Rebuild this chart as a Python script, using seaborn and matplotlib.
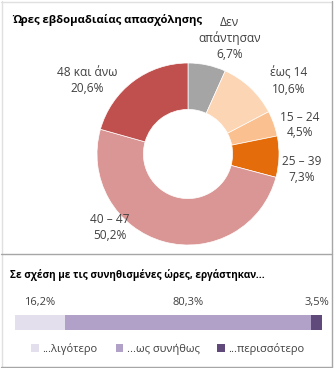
import matplotlib
matplotlib.use("Agg")
import matplotlib.pyplot as plt
from matplotlib.patches import Patch
from matplotlib.lines import Line2D
import numpy as np
import pandas as pd
import seaborn as sns

# Weekly working hours (share of employed, %)
hour_groups = ["Δεν\nαπάντησαν", "έως 14", "15 – 24", "25 – 39", "40 – 47", "48 και άνω"]
hour_shares = [6.7, 10.6, 4.5, 7.3, 50.2, 20.6]
hour_colors = ["#A5A5A5", "#FCD5B4", "#FAC090", "#E46C0A", "#D99694", "#C0504D"]

# Hours worked compared with usual hours (%)
usual_groups = ["...λιγότερο", "...ως συνήθως", "...περισσότερο"]
usual_shares = [16.2, 80.3, 3.5]
usual_colors = ["#E4DFEC", "#B1A0C7", "#604A7B"]

title_top = "Ώρες εβδομαδιαίας απασχόλησης"
title_bottom = "Σε σχέση με τις συνηθισμένες ώρες, εργάστηκαν..."

# label anchors around the donut, in pie data units
label_xy = [(0.46, 1.27), (1.11, 0.80), (1.23, 0.32), (1.25, -0.17), (-0.86, -0.81), (-1.11, 0.81)]

sns.set_theme(style="white")
plt.rcParams["font.family"] = ["Open Sans", "DejaVu Sans"]

W, H = 334, 368
DPI = 100
fig = plt.figure(figsize=(W / DPI, H / DPI), dpi=DPI)
fig.patch.set_facecolor("white")


def px_box(x0, y0, x1, y1):
    return [x0 / W, 1 - y1 / H, (x1 - x0) / W, (y1 - y0) / H]


def pct(v):
    return f"{v:.1f}".replace(".", ",") + "%"


TEXT = "#404040"
FS = 8

# ---- donut: weekly hours ----
ax = fig.add_axes(px_box(97, 63, 279, 245))
ax.pie(hour_shares, colors=hour_colors, startangle=90, counterclock=False,
       wedgeprops=dict(width=0.51, edgecolor="white", linewidth=0.5))
ax.set_xlim(-1, 1)
ax.set_ylim(-1, 1)
ax.set_aspect("equal")
ax.axis("off")
for name, val, (lx, ly) in zip(hour_groups, hour_shares, label_xy):
    ax.text(lx, ly, f"{name}\n{pct(val)}", ha="center", va="center",
            fontsize=8.6, color=TEXT, linespacing=1.25, clip_on=False)

fig.text(12 / W, 1 - 20 / H, title_top, fontsize=8.1, fontweight="bold",
         color="black", va="center", ha="left")

# ---- stacked bar: hours vs usual ----
bx = fig.add_axes(px_box(15, 315, 322, 330))
cum = np.cumsum(usual_shares)
df = pd.DataFrame({"group": usual_groups, "cum": cum, "share": usual_shares})
for _, row in df.iloc[::-1].iterrows():
    color = usual_colors[usual_groups.index(row["group"])]
    sns.barplot(x=[row["cum"]], y=[""], orient="h", color=color, saturation=1,
                width=1.0, ax=bx, linewidth=0)
bx.set_xlim(0, 100)
bx.set_ylim(0.5, -0.5)
bx.axis("off")
for c, s in zip(cum, usual_shares):
    bx.annotate(pct(s), xy=(c - s / 2, 1), xycoords=("data", "axes fraction"),
                xytext=(0, 12), textcoords="offset pixels",
                ha="center", va="center", fontsize=FS, color=TEXT)

fig.text(10 / W, 1 - 275 / H, title_bottom, fontsize=7.2, fontweight="bold",
         color="black", va="center", ha="left")

handles = [Patch(facecolor=c, edgecolor="none", label=g) for g, c in zip(usual_groups, usual_colors)]
fig.legend(handles=handles, loc="center", bbox_to_anchor=(168 / W, 1 - 349 / H),
           ncol=3, frameon=False, fontsize=FS, handlelength=0.7, handleheight=0.7,
           handletextpad=0.3, columnspacing=1.6, labelcolor=TEXT)

# ---- panel frames ----
def hline(y, x0, x1, color):
    fig.add_artist(Line2D([x0 / W, x1 / W], [1 - y / H, 1 - y / H], color=color, lw=1))


def vline(x, y0, y1, color):
    fig.add_artist(Line2D([x / W, x / W], [1 - y0 / H, 1 - y1 / H], color=color, lw=1))


hline(1.5, 1, 332, "#E0E0E0")
vline(1.5, 1, 367, "#E0E0E0")
vline(331.5, 1, 367, "#A6A6A6")
hline(253.5, 1, 332, "#A6A6A6")
hline(366.5, 1, 332, "#A6A6A6")

fig.savefig("out.png", dpi=DPI, facecolor="white")
